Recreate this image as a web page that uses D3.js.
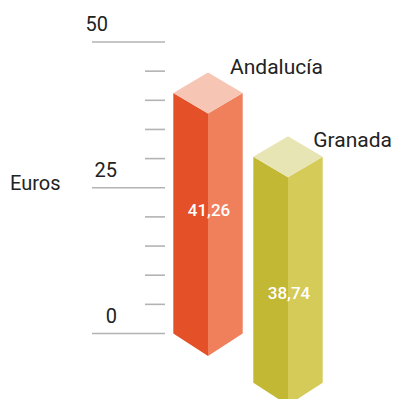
<!DOCTYPE html>
<html>
<head>
<meta charset="utf-8">
<script src="https://cdn.jsdelivr.net/npm/d3@7/dist/d3.min.js"></script>
<style>
  html, body { margin: 0; padding: 0; background: #ffffff; }
  svg { display: block; }
  text { font-family: Roboto, "Noto Sans", sans-serif; }
</style>
</head>
<body>
<svg id="chart" width="394" height="399"></svg>
<script>
// Average price per region (euros)
const regions = ["Andalucía", "Granada"];
const values = [41.26, 38.74];
const valueLabels = ["41,26", "38,74"];
const majorTicks = [0, 25, 50];
const minorTicks = [5, 10, 15, 20, 30, 35, 40, 45];
const yTitle = "Euros";

// Face colours per column: left, right, top
const palette = [
  { left: "#e45027", right: "#f0805c", top: "#f7c5b4" },
  { left: "#c2b833", right: "#d5cb58", top: "#e8e5b5" }
];

// Each column sits further back in the scene: horizontal start and base drop,
// plus where its value and name labels go
const placement = [
  { x: 173.3, drop: 0, labelFrac: 0.51, nameDx: -12.7, nameDy: -19 },
  { x: 253.3, drop: 49.2, labelFrac: 0.63, nameDx: -9.4, nameDy: -10 }
];
const halfW = 34.7, depth = 20.5;

const svg = d3.select("#chart");
const y = d3.scaleLinear().domain([0, 50]).range([333.5, 42]);

// Axis: long lines at the labelled values, short marks in between
const axis = svg.append("g");
axis.selectAll("line.major").data(majorTicks).join("line")
  .attr("class", "major")
  .attr("x1", 92).attr("x2", 165)
  .attr("y1", d => y(d)).attr("y2", d => y(d))
  .attr("stroke", "#b3b3b3").attr("stroke-width", 1.6);
axis.selectAll("line.minor").data(minorTicks).join("line")
  .attr("class", "minor")
  .attr("x1", 145).attr("x2", 165)
  .attr("y1", d => y(d)).attr("y2", d => y(d))
  .attr("stroke", "#b3b3b3").attr("stroke-width", 1.6);
axis.selectAll("text.tick").data(majorTicks).join("text")
  .attr("class", "tick")
  .attr("x", d => d === d3.max(majorTicks) ? 108 : 117)
  .attr("y", d => y(d) - 11)
  .attr("text-anchor", "end")
  .attr("font-size", 20)
  .attr("fill", "#222")
  .text(d => d);

svg.append("text")
  .attr("x", 10).attr("y", 190)
  .attr("font-size", 20)
  .attr("fill", "#222")
  .text(yTitle);

// Columns drawn as boxes seen from slightly above
const cols = svg.selectAll("g.col").data(regions).join("g").attr("class", "col");

cols.each(function (name, i) {
  const g = d3.select(this);
  const p = placement[i];
  const L = p.x, M = L + halfW, R = L + 2 * halfW;
  const base = y(0) + p.drop;
  const top = y(values[i]) + p.drop;
  const pts = a => a.map(q => q.join(",")).join(" ");

  g.append("polygon")
    .attr("points", pts([[L, top], [M, top + depth], [M, base + depth + 2], [L, base]]))
    .attr("fill", palette[i].left);
  g.append("polygon")
    .attr("points", pts([[M, top + depth], [R, top], [R, base], [M, base + depth + 2]]))
    .attr("fill", palette[i].right);
  g.append("polygon")
    .attr("points", pts([[L, top], [M, top - depth], [R, top], [M, top + depth]]))
    .attr("fill", palette[i].top);

  g.append("text")
    .attr("x", M + 1)
    .attr("y", top + (base - top) * p.labelFrac)
    .attr("text-anchor", "middle")
    .attr("font-size", 17)
    .attr("font-weight", 500)
    .attr("fill", "#ffffff")
    .text(valueLabels[i]);

  g.append("text")
    .attr("x", R + p.nameDx)
    .attr("y", top + p.nameDy)
    .attr("font-size", 21)
    .attr("fill", "#222")
    .text(name);
});
</script>
</body>
</html>
